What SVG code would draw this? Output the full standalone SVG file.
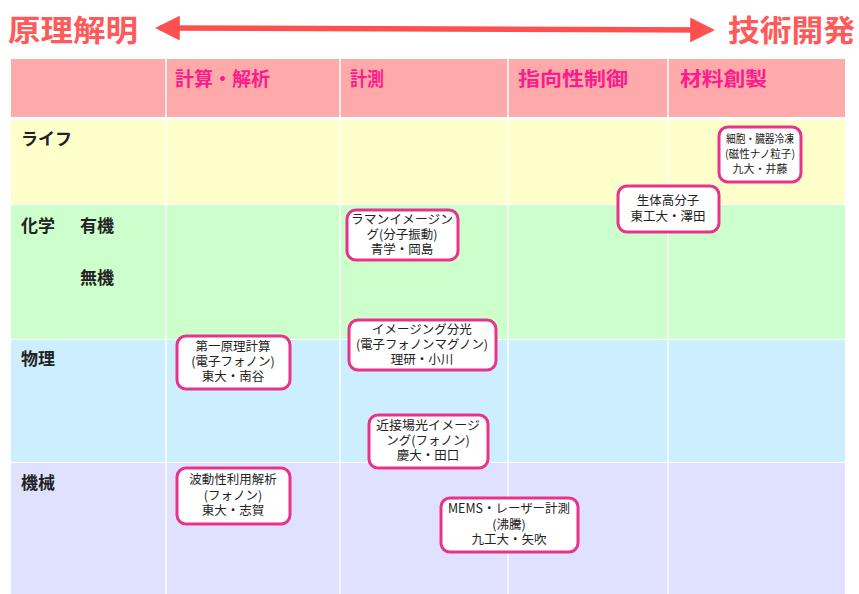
<svg xmlns="http://www.w3.org/2000/svg" width="859" height="594" viewBox="0 0 859 594">
<style>
.t{font-family:"Noto Sans CJK JP","Noto Sans CJK SC",sans-serif;}
.title{font-size:30px;font-weight:bold;fill:#ff5a5a;}
.hd{font-size:19px;font-weight:bold;fill:#ff1a8c;}
.rl{font-size:17px;font-weight:bold;fill:#222;}
.nd{fill:#fff;stroke:#e8338a;stroke-width:3;}
.nt{font-size:12.5px;fill:#222;text-anchor:middle;}
.ns{font-size:11px;fill:#222;text-anchor:middle;}
.grid{stroke:#fff;stroke-width:1.5;}
</style>
<defs>
<marker id="ah" viewBox="0 0 10 10" refX="8" refY="5" markerWidth="4.5" markerHeight="4.5" orient="auto-start-reverse">
<path d="M0,0 L10,5 L0,10 z" fill="#ff5050"/>
</marker>
</defs>
<rect width="859" height="594" fill="#fff"/>
<g id="background">
<rect x="11" y="59" width="834" height="58" fill="#ffaaaa"/>
<rect x="11" y="120" width="834" height="84" fill="#ffffcc"/>
<rect x="11" y="205" width="834" height="134" fill="#ccffcc"/>
<rect x="11" y="340" width="834" height="122" fill="#cceeff"/>
<rect x="11" y="463" width="834" height="131" fill="#e0e0ff"/>
<g class="grid">
<line x1="166" y1="59" x2="166" y2="594"/>
<line x1="340" y1="59" x2="340" y2="594"/>
<line x1="508" y1="59" x2="508" y2="594"/>
<line x1="668" y1="59" x2="668" y2="594"/>
</g>
</g>
<g id="titles">
<text class="t title" x="8" y="41" textLength="130" lengthAdjust="spacingAndGlyphs">原理解明</text>
<text class="t title" x="728" y="41" textLength="127" lengthAdjust="spacingAndGlyphs">技術開発</text>
</g>
<g id="connectors">
<line x1="160" y1="28" x2="710" y2="30" stroke="#ff5050" stroke-width="5.5" marker-start="url(#ah)" marker-end="url(#ah)"/>
</g>
<g id="headers">
<text class="t hd" x="175" y="86" textLength="95" lengthAdjust="spacingAndGlyphs">計算・解析</text>
<text class="t hd" x="350" y="86" textLength="34" lengthAdjust="spacingAndGlyphs">計測</text>
<text class="t hd" x="518" y="86" textLength="110" lengthAdjust="spacingAndGlyphs">指向性制御</text>
<text class="t hd" x="680" y="86" textLength="87" lengthAdjust="spacingAndGlyphs">材料創製</text>
</g>
<g id="rows">
<text class="t rl" x="21" y="145">ライフ</text>
<text class="t rl" x="21" y="232">化学</text>
<text class="t rl" x="80" y="232">有機</text>
<text class="t rl" x="80" y="284">無機</text>
<text class="t rl" x="21" y="365">物理</text>
<text class="t rl" x="21" y="489">機械</text>
</g>
<g id="n1">
<rect class="nd" x="719" y="127" width="82" height="55" rx="9"/>
<text class="t ns" x="760" y="143" textLength="68" lengthAdjust="spacingAndGlyphs">細胞・臓器冷凍</text>
<text class="t ns" x="760" y="158" textLength="70" lengthAdjust="spacingAndGlyphs">(磁性ナノ粒子)</text>
<text class="t ns" x="760" y="173">九大・井藤</text>
</g>
<g id="n2">
<rect class="nd" x="618" y="186" width="101" height="46" rx="9"/>
<text class="t nt" x="668" y="205">生体高分子</text>
<text class="t nt" x="668" y="221">東工大・澤田</text>
</g>
<g id="n3">
<rect class="nd" x="347" y="210" width="111" height="50" rx="9"/>
<text class="t nt" x="402" y="224" textLength="102" lengthAdjust="spacingAndGlyphs">ラマンイメージン</text>
<text class="t nt" x="402" y="239">グ(分子振動)</text>
<text class="t nt" x="402" y="254">青学・岡島</text>
</g>
<g id="n4">
<rect class="nd" x="177" y="336" width="113" height="53" rx="9"/>
<text class="t nt" x="233" y="351">第一原理計算</text>
<text class="t nt" x="233" y="366">(電子フォノン)</text>
<text class="t nt" x="233" y="381">東大・南谷</text>
</g>
<g id="n5">
<rect class="nd" x="349" y="320" width="147" height="50" rx="9"/>
<text class="t nt" x="422" y="334">イメージング分光</text>
<text class="t nt" x="422" y="349" textLength="132" lengthAdjust="spacingAndGlyphs">(電子フォノンマグノン)</text>
<text class="t nt" x="422" y="364">理研・小川</text>
</g>
<g id="n6">
<rect class="nd" x="369" y="415" width="119" height="53" rx="9"/>
<text class="t nt" x="428" y="430" textLength="104" lengthAdjust="spacingAndGlyphs">近接場光イメージ</text>
<text class="t nt" x="428" y="445">ング(フォノン)</text>
<text class="t nt" x="428" y="460">慶大・田口</text>
</g>
<g id="n7">
<rect class="nd" x="177" y="468" width="113" height="56" rx="9"/>
<text class="t nt" x="233" y="484">波動性利用解析</text>
<text class="t nt" x="233" y="500">(フォノン)</text>
<text class="t nt" x="233" y="515">東大・志賀</text>
</g>
<g id="n8">
<rect class="nd" x="441" y="498" width="137" height="54" rx="9"/>
<text class="t nt" x="509" y="513" textLength="122" lengthAdjust="spacingAndGlyphs">MEMS・レーザー計測</text>
<text class="t nt" x="509" y="529">(沸騰)</text>
<text class="t nt" x="509" y="544">九工大・矢吹</text>
</g>
</svg>
